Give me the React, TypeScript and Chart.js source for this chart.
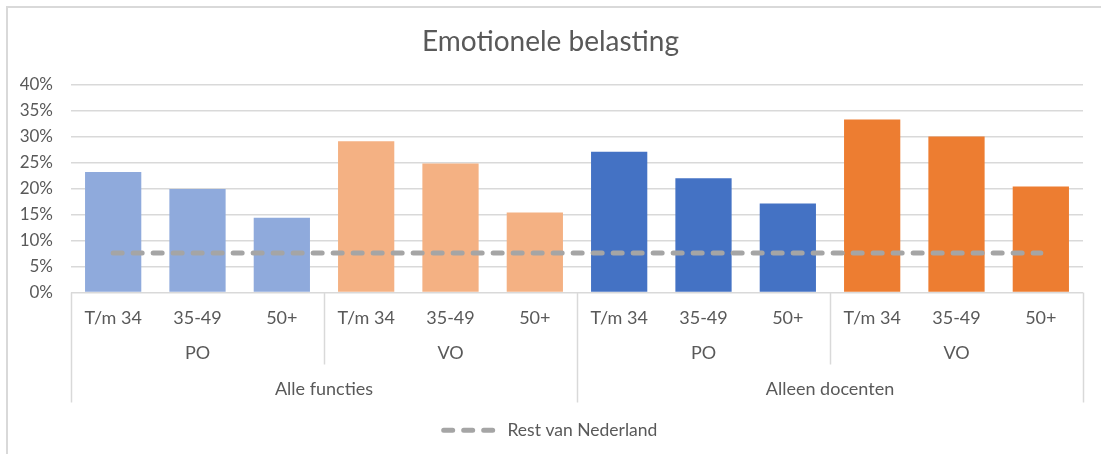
import React, { useEffect, useRef } from "react";
import { Chart, registerables } from "chart.js";

Chart.register(...registerables);

const title = "Emotionele belasting";
const ageLabels = ["T/m 34", "35-49", "50+", "T/m 34", "35-49", "50+", "T/m 34", "35-49", "50+", "T/m 34", "35-49", "50+"];
const sectorLabels = ["PO", "VO", "PO", "VO"];
const groupLabels = ["Alle functies", "Alleen docenten"];
const values = [23.2, 19.9, 14.4, 29.1, 24.8, 15.4, 27.1, 22.0, 17.1, 33.3, 30.0, 20.4];
const restLabel = "Rest van Nederland";
const restValues = [7.6, 7.6, 7.6, 7.6, 7.6, 7.6, 7.6, 7.6, 7.6, 7.6, 7.6, 7.6];
const sectorColors = ["#8FAADC", "#F4B183", "#4472C4", "#ED7D31"];
const yTicks = [0, 5, 10, 15, 20, 25, 30, 35, 40];

const FONT = "Lato, 'Open Sans', sans-serif";
const TEXT = "#595959";
const GRID = "#D9D9D9";
const LINE_DASH = [9, 11];

const groupPlugin = {
  id: "groupAxis",
  afterDraw(chart: any) {
    const { ctx, chartArea, scales } = chart;
    const x = scales.x;
    const n = ageLabels.length;
    const step = x.getPixelForValue(1) - x.getPixelForValue(0);
    const edge = (i: number) => x.getPixelForValue(i) - step / 2;
    const b = chartArea.bottom;
    ctx.save();
    ctx.strokeStyle = GRID;
    ctx.lineWidth = 1.5;
    for (let i = 0; i <= n; i += 3) {
      const isLong = i % 6 === 0;
      const xx = Math.round(edge(i)) + 0.5;
      ctx.beginPath();
      ctx.moveTo(xx, b);
      ctx.lineTo(xx, b + (isLong ? 110 : 72));
      ctx.stroke();
    }
    ctx.fillStyle = TEXT;
    ctx.font = `18px ${FONT}`;
    ctx.textAlign = "center";
    ctx.textBaseline = "middle";
    sectorLabels.forEach((s, k) => {
      ctx.fillText(s, x.getPixelForValue(k * 3 + 1), b + 61);
    });
    groupLabels.forEach((g, k) => {
      ctx.fillText(g, edge(k * 6 + 3), b + 97);
    });
    ctx.restore();
  },
};

export default function App() {
  const ref = useRef<HTMLCanvasElement | null>(null);
  useEffect(() => {
    if (!ref.current) return;
    const barColors = values.map((_, i) => sectorColors[Math.floor(i / 3)]);
    const chart = new Chart(ref.current, {
      type: "bar",
      data: {
        labels: ageLabels,
        datasets: [
          {
            type: "line",
            label: restLabel,
            data: restValues,
            borderColor: "#A5A5A5",
            backgroundColor: "#A5A5A5",
            borderWidth: 5,
            borderDash: LINE_DASH,
            borderCapStyle: "round",
            pointRadius: 0,
            pointStyle: "line",
            order: 0,
          } as any,
          {
            type: "bar",
            label: "values",
            data: values,
            backgroundColor: barColors,
            borderWidth: 0,
            categoryPercentage: 1,
            barPercentage: 0.667,
            order: 1,
          },
        ],
      },
      options: {
        animation: false,
        responsive: false,
        maintainAspectRatio: false,
        layout: { padding: { left: 18, right: 18, top: 0, bottom: 5 } },
        plugins: {
          title: {
            display: true,
            text: title,
            color: TEXT,
            font: { family: FONT, size: 28, weight: "normal" },
            padding: { top: 25, bottom: 26 },
          },
          legend: {
            position: "bottom",
            labels: {
              color: TEXT,
              font: { family: FONT, size: 17.5 },
              usePointStyle: true,
              pointStyleWidth: 55,
              padding: 10,
              generateLabels: (c: any) => {
                const items = Chart.defaults.plugins.legend.labels.generateLabels(c);
                return items
                  .filter((it: any) => it.text === restLabel)
                  .map((it: any) => ({ ...it, lineDash: LINE_DASH, lineCap: "round" }));
              },
            },
          },
          tooltip: { enabled: false },
        },
        scales: {
          x: {
            grid: { display: false },
            border: { display: false },
            ticks: {
              color: TEXT,
              font: { family: FONT, size: 18 },
              padding: 7,
              maxRotation: 0,
              autoSkip: false,
            },
            afterFit: (s: any) => {
              s.height = 119;
            },
          },
          y: {
            min: 0,
            max: 40,
            afterBuildTicks: (s: any) => {
              s.ticks = yTicks.map((v) => ({ value: v }));
            },
            grid: { color: GRID, lineWidth: 1.5, drawTicks: false },
            border: { display: false },
            ticks: {
              color: TEXT,
              font: { family: FONT, size: 17 },
              padding: 18,
              callback: (v: any) => `${v}%`,
            },
            afterFit: (s: any) => {
              s.width = 53;
            },
          },
        },
      },
      plugins: [groupPlugin],
    });
    return () => chart.destroy();
  }, []);
  return (
    <div style={{ position: "fixed", left: 0, top: 0, width: 1101, height: 454, overflow: "hidden", background: "#fff" }}>
      <div
        style={{
          position: "absolute",
          left: 6,
          top: 6,
          width: 1200,
          height: 600,
          borderTop: "2px solid #D9D9D9",
          borderLeft: "2px solid #D9D9D9",
        }}
      />
      <canvas ref={ref} width={1101} height={454} style={{ position: "absolute", left: 0, top: 0, width: 1101, height: 454 }} />
    </div>
  );
}
